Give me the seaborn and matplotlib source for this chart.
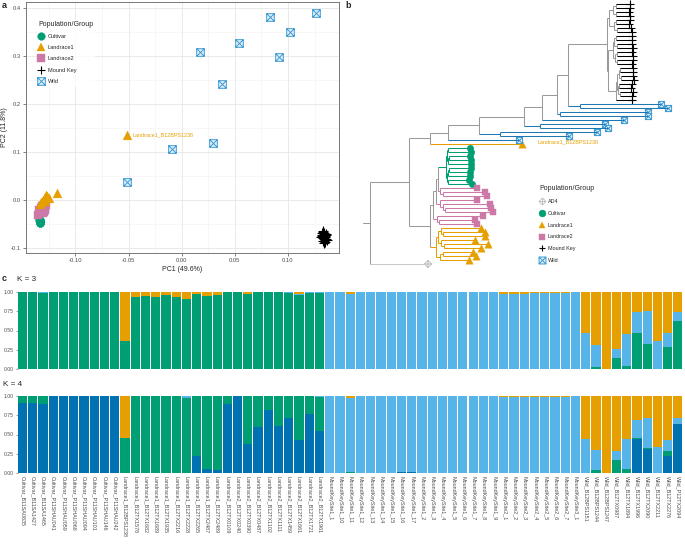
"""
PCA / phylogeny / admixture panels
"""
import matplotlib
matplotlib.use("Agg")
import matplotlib.pyplot as plt
from matplotlib.path import Path
from matplotlib.lines import Line2D
import seaborn as sns
import pandas as pd
import numpy as np

sns.set_theme(style="white")
plt.rcParams["font.family"] = ["Liberation Sans", "DejaVu Sans"]

GREEN, ORANGE, PINK = "#009E73", "#E69F00", "#CC79A7"
LBLUE, DBLUE, GREY = "#56B4E9", "#0072B2", "#9A9A9A"
WILD_EDGE = "#3C9AD2"
TICK_COL = "#4D4D4D"

# ---------------- panel a data (PC1, PC2) ----------------
cult_pc1 = [-0.1338, -0.1335, -0.1332, -0.1336, -0.1330, -0.1334, -0.1328, -0.1333, -0.1331, -0.1337]
cult_pc2 = [-0.041, -0.043, -0.045, -0.047, -0.044, -0.046, -0.042, -0.048, -0.044, -0.045]
l1_pc1 = [-0.0510, -0.1274, -0.1173, -0.1305, -0.1248, -0.1320, -0.1290, -0.1262, -0.1336, -0.1282]
l1_pc2 = [0.136, 0.0104, 0.0139, 0.000, 0.0035, -0.005, 0.006, 0.008, -0.008, -0.002]
l2_pc1 = [-0.1352, -0.1320, -0.1290, -0.1274, -0.1305, -0.1335, -0.1283, -0.1312, -0.1298, -0.1340]
l2_pc2 = [-0.031, -0.017, -0.021, -0.010, -0.028, -0.024, -0.015, -0.012, -0.026, -0.020]
mk_pc1 = [0.1320, 0.1335, 0.1328, 0.1342, 0.1315, 0.1350, 0.1338, 0.1330, 0.1345, 0.1325, 0.1360, 0.1340, 0.1318,
          0.1333, 0.1355, 0.1348, 0.1322, 0.1337, 0.1343, 0.1365, 0.1330, 0.1352, 0.1327, 0.1340, 0.1358]
mk_pc2 = [-0.068, -0.072, -0.075, -0.070, -0.078, -0.074, -0.080, -0.066, -0.083, -0.077, -0.081, -0.086, -0.073,
          -0.079, -0.071, -0.088, -0.076, -0.069, -0.082, -0.084, -0.085, -0.078, -0.064, -0.090, -0.073]
wild_pc1 = [0.0827, 0.1267, 0.1016, 0.0535, 0.0176, 0.0915, 0.0377, 0.0296, -0.0094, -0.0516]
wild_pc2 = [0.382, 0.389, 0.350, 0.328, 0.308, 0.297, 0.241, 0.118, 0.106, 0.037]
outlier_name = "Landrace1_B12BPS1238"

pca_xticks = [-0.10, -0.05, 0.00, 0.05, 0.10]
pca_xlabels = ["-0.10", "-0.05", "0.00", "0.05", "0.10"]
pca_yticks = [-0.1, 0.0, 0.1, 0.2, 0.3, 0.4]
pca_ylabels = ["-0.1", "0.0", "0.1", "0.2", "0.3", "0.4"]

# ---------------- panel b data (newick, branch lengths) ----------------
mk_top = "(((MK_01:14,MK_02:14):3,(MK_03:13,MK_04:14):3):4,((MK_05:14,MK_06:13):2,(MK_07:14,MK_08:15):3):5)"
mk_mid = "(((MK_09:16,MK_10:16):2,(MK_11:15,MK_12:16):3):1,((MK_13:15,MK_14:16):2,(MK_15:16,MK_16:15):2):2)"
mk_bot = ("((((MK_17:13,MK_18:13):1,(MK_19:12,MK_20:13):2):2,((MK_21:13,MK_22:12):1,(MK_23:13,MK_24:12):2):1):1,"
          "MK_25:16)")
mk_clade = f"({mk_top}:2,({mk_mid}:5,{mk_bot}:8):1)"
node_m = f"({mk_clade}:39,(W_09:81,W_10:88):12)"
node_k = f"({node_m}:11,(W_07:88,W_08:88):3)"
node_j = f"({node_k}:15,W_06:82)"
node_g = f"({node_j}:18,(W_04:65,W_05:68):16)"
node_e = f"({node_g}:45,(W_03:97,W_02:69):21)"
node_d = f"({node_e}:31,W_01:71)"
node_b = f"({node_d}:18,L1_B12BPS1238:92)"
cult_clade = ("(((C_01:22,C_02:23):1,((C_03:21,C_04:22):1,C_05:23):1):1,"
              "(((C_06:22,C_07:21):1,C_08:22):1,(C_09:21,C_10:24):1):1)")
l2_a = "(L2_01:37,(L2_02:42,L2_03:44):3)"
l2_b = "(L2_04:37,(L2_05:47,(L2_06:46,L2_07:48):2):3)"
l2_c = "(L2_08:46,(L2_09:36,L2_10:38):2)"
l1_clade = ("(((L1_01:40,(L1_02:42,L1_03:42):2):3,(L1_04:34,(L1_05:44,L1_06:37):3):3):2,"
            "((L1_07:30,L1_08:33):3,L1_09:29):4)")
node_c = f"(((({cult_clade}:8,{l2_a}:2):2,{l2_b}:4):3,{l2_c}:4):3,{l1_clade}:6)"
tree_newick = f"(({node_b}:21,{node_c}:21):39,AD4:58);"
tree_root_x = 370
tree_stub_x = 363

group_of_prefix = {"MK": "Mound Key", "W": "Wild", "C": "Cultivar", "L1": "Landrace1",
                   "L2": "Landrace2", "AD4": "AD4"}

# ---------------- panel c data (admixture Q values) ----------------
samples = (
    ["Cultivar_B11SA0835", "Cultivar_B11SA1427", "Cultivar_B11SA1465", "Cultivar_P11SHAU041",
     "Cultivar_P11SHAU059", "Cultivar_P11SHAU068", "Cultivar_P11SHAU094", "Cultivar_P11SHAU101",
     "Cultivar_P11SHAU146", "Cultivar_P11SHAU242"]
    + ["Landrace1_B12BPS1238", "Landrace1_B12TX1578", "Landrace1_B12TX1682", "Landrace1_B12TX1689",
       "Landrace1_B12TX1935", "Landrace1_B12TX2216", "Landrace1_B12TX2228", "Landrace1_B12TX2265",
       "Landrace1_B12TX2487", "Landrace1_B12TX2489"]
    + ["Landrace2_B12TX0109", "Landrace2_B12TX0240", "Landrace2_B12TX0390", "Landrace2_B12TX0487",
       "Landrace2_B12TX1102", "Landrace2_B12TX1111", "Landrace2_B12TX1459", "Landrace2_B12TX1661",
       "Landrace2_B12TX1721", "Landrace2_B12TX1961"]
    + ["MoundKeySite1_1", "MoundKeySite1_10", "MoundKeySite1_11", "MoundKeySite1_12", "MoundKeySite1_13",
       "MoundKeySite1_14", "MoundKeySite1_15", "MoundKeySite1_16", "MoundKeySite1_17", "MoundKeySite1_2",
       "MoundKeySite1_3", "MoundKeySite1_4", "MoundKeySite1_5", "MoundKeySite1_6", "MoundKeySite1_7",
       "MoundKeySite1_8", "MoundKeySite1_9", "MoundKeySite2_1", "MoundKeySite2_2", "MoundKeySite2_3",
       "MoundKeySite2_4", "MoundKeySite2_5", "MoundKeySite2_6", "MoundKeySite2_7", "MoundKeySite3_1"]
    + ["Wild_B12BPS1151", "Wild_B12BPS1244", "Wild_B12BPS1247", "Wild_B12TX0987", "Wild_B12TX1894",
       "Wild_B12TX1996", "Wild_B12TX2090", "Wild_B12TX2211", "Wild_B12TX2276", "Wild_P12TX2094"]
)

# K = 3, stacked bottom -> top: green, light blue, orange
k3_green = ([1.00, 1.00, 0.99, 1.00, 1.00, 1.00, 1.00, 1.00, 1.00, 1.00]
            + [0.37, 0.935, 0.95, 0.935, 0.955, 0.935, 0.91, 0.98, 0.95, 0.955]
            + [1.00, 1.00, 0.98, 1.00, 1.00, 0.995, 0.99, 0.965, 0.99, 0.985]
            + [0, 0.005, 0.005, 0, 0, 0.004, 0, 0, 0, 0.004, 0, 0, 0, 0.004, 0, 0, 0, 0, 0, 0, 0,
               0.004, 0.004, 0.005, 0]
            + [0.0, 0.026, 0.0, 0.138, 0.04, 0.465, 0.33, 0.0, 0.284, 0.625])
k3_lblue = ([0, 0, 0.01, 0, 0, 0, 0, 0, 0, 0]
            + [0, 0, 0, 0, 0, 0, 0, 0, 0, 0]
            + [0, 0, 0, 0, 0, 0, 0.01, 0.01, 0.01, 0.015]
            + [1.0, 0.995, 0.965, 1.0, 1.0, 0.996, 1.0, 1.0, 1.0, 0.996, 1.0, 1.0, 1.0, 0.996, 1.0, 1.0, 1.0,
               0.975, 0.978, 0.978, 0.985, 0.984, 0.986, 0.985, 1.0]
            + [0.474, 0.284, 0.0, 0.122, 0.42, 0.272, 0.42, 0.362, 0.181, 0.12])
k3_orange = ([0, 0, 0, 0, 0, 0, 0, 0, 0, 0]
             + [0.63, 0.065, 0.05, 0.065, 0.045, 0.065, 0.09, 0.02, 0.05, 0.045]
             + [0, 0, 0.02, 0, 0, 0.005, 0, 0.025, 0, 0]
             + [0, 0, 0.03, 0, 0, 0, 0, 0, 0, 0, 0, 0, 0, 0, 0, 0, 0, 0.025, 0.022, 0.022, 0.015, 0.012,
                0.01, 0.01, 0]
             + [0.526, 0.69, 1.0, 0.74, 0.54, 0.263, 0.25, 0.638, 0.535, 0.255])

# K = 4, stacked bottom -> top: dark blue, green, light blue, orange
k4_dblue = ([0.91, 0.914, 0.897, 1, 1, 1, 1, 1, 1, 1]
            + [0, 0, 0, 0, 0, 0, 0, 0.224, 0.056, 0.043]
            + [0.897, 1.0, 0.38, 0.595, 0.823, 0.612, 0.716, 0.435, 0.76, 0.547]
            + [0, 0, 0, 0, 0, 0, 0, 0.01, 0.008, 0, 0, 0, 0, 0, 0.005, 0, 0, 0, 0, 0, 0, 0, 0, 0, 0]
            + [0, 0, 0, 0, 0, 0.44, 0.315, 0, 0.22, 0.638])
k4_green = ([0.09, 0.086, 0.103, 0, 0, 0, 0, 0, 0, 0]
            + [0.457, 1, 1, 1, 1, 1, 0.97, 0.776, 0.944, 0.957]
            + [0.103, 0, 0.62, 0.405, 0.177, 0.388, 0.284, 0.56, 0.24, 0.445]
            + [0, 0, 0.01, 0, 0, 0.004, 0, 0, 0, 0, 0, 0, 0, 0, 0, 0, 0, 0, 0, 0, 0, 0.005, 0.005, 0.004, 0]
            + [0, 0.043, 0, 0.168, 0.047, 0.013, 0.005, 0, 0.064, 0.0])
k4_lblue = ([0, 0, 0, 0, 0, 0, 0, 0, 0, 0]
            + [0, 0, 0, 0, 0, 0, 0.03, 0, 0, 0]
            + [0, 0, 0, 0, 0, 0, 0, 0.005, 0, 0.008]
            + [1.0, 1.0, 0.97, 1.0, 1.0, 0.996, 1.0, 0.99, 0.992, 1.0, 1.0, 1.0, 1.0, 1.0, 0.995, 1.0, 1.0,
               0.985, 0.985, 0.988, 0.99, 0.985, 0.987, 0.988, 1.0]
            + [0.444, 0.257, 0, 0.112, 0.40, 0.241, 0.396, 0.332, 0.151, 0.082])
k4_orange = ([0, 0, 0, 0, 0, 0, 0, 0, 0, 0]
             + [0.543, 0, 0, 0, 0, 0, 0, 0, 0, 0]
             + [0, 0, 0, 0, 0, 0, 0, 0, 0, 0]
             + [0, 0, 0.02, 0, 0, 0, 0, 0, 0, 0, 0, 0, 0, 0, 0, 0, 0, 0.015, 0.015, 0.012, 0.01, 0.01,
                0.008, 0.008, 0]
             + [0.556, 0.70, 1.0, 0.72, 0.553, 0.306, 0.284, 0.668, 0.565, 0.28])
q_ticks = [0.0, 0.25, 0.5, 0.75, 1.0]
q_labels = ["0.00", "0.25", "0.50", "0.75", "1.00"]

# ---------------- markers ----------------
M, L = Path.MOVETO, Path.LINETO
box_x = Path([(-1, -1), (1, -1), (1, 1), (-1, 1), (-1, -1), (-1, -1), (1, 1), (-1, 1), (1, -1)],
             [M, L, L, L, Path.CLOSEPOLY, M, L, M, L])
diamond_plus = Path([(0, 1), (1, 0), (0, -1), (-1, 0), (0, 1), (-1, 0), (1, 0), (0, -1), (0, 1)],
                    [M, L, L, L, Path.CLOSEPOLY, M, L, M, L])

style = {
    "AD4": dict(marker=diamond_plus, fc="none", ec="#BBBBBB", lw=0.6),
    "Cultivar": dict(marker="o", fc=GREEN, ec=GREEN, lw=0.3),
    "Landrace1": dict(marker="^", fc=ORANGE, ec=ORANGE, lw=0.3),
    "Landrace2": dict(marker="s", fc=PINK, ec=PINK, lw=0.3),
    "Mound Key": dict(marker="+", fc="black", ec="black", lw=0.8),
    "Wild": dict(marker=box_x, fc="#E6F2FA", ec=WILD_EDGE, lw=0.7),
}
line_col = {"AD4": "#C8C8C8", "Cultivar": GREEN, "Landrace1": ORANGE, "Landrace2": PINK,
            "Mound Key": "black", "Wild": "#1F77B4"}


def px(x, y):
    return x / 685, 1 - y / 546


def scatter(ax, xs, ys, group, s):
    st = style[group]
    kw = dict(marker=st["marker"], s=s, linewidth=st["lw"], ax=ax, legend=False)
    if st["marker"] == "+":
        sns.scatterplot(x=xs, y=ys, color=st["ec"], **kw)
    else:
        sns.scatterplot(x=xs, y=ys, color=st["fc"], edgecolor=st["ec"], **kw)


def legend_handles(groups, ms):
    out = []
    for g in groups:
        st = style[g]
        out.append(Line2D([], [], linestyle="none", marker=st["marker"], markersize=ms,
                          markerfacecolor=st["fc"], markeredgecolor=st["ec"], markeredgewidth=st["lw"],
                          label=g))
    return out


fig = plt.figure(figsize=(6.85, 5.46), dpi=100)

# ================= panel a =================
l, b = px(25.7, 253.3)
ax_a = fig.add_axes([l, b, 313.3 / 685, 251.6 / 546])
ax_a.set_facecolor("white")
for t in np.arange(-0.125, 0.15, 0.05):
    ax_a.axvline(t, color="#F2F2F2", lw=0.4, zorder=0)
for t in pca_xticks:
    ax_a.axvline(t, color="#E6E6E6", lw=0.6, zorder=0)
for t in np.arange(-0.05, 0.41, 0.1):
    ax_a.axhline(t, color="#F2F2F2", lw=0.4, zorder=0)
for t in pca_yticks:
    ax_a.axhline(t, color="#E6E6E6", lw=0.6, zorder=0)

scatter(ax_a, wild_pc1, wild_pc2, "Wild", 30)
scatter(ax_a, mk_pc1, mk_pc2, "Mound Key", 50)
scatter(ax_a, cult_pc1, cult_pc2, "Cultivar", 32)
scatter(ax_a, l2_pc1, l2_pc2, "Landrace2", 30)
scatter(ax_a, l1_pc1, l1_pc2, "Landrace1", 40)
ax_a.text(l1_pc1[0] + 0.0045, l1_pc2[0], outlier_name, color=ORANGE, fontsize=3.9, va="center")

ax_a.set_xlim(-0.1467, 0.148)
ax_a.set_ylim(-0.111, 0.413)
ax_a.set_xticks(pca_xticks)
ax_a.set_xticklabels(pca_xlabels)
ax_a.set_yticks(pca_yticks)
ax_a.set_yticklabels(pca_ylabels)
ax_a.tick_params(labelsize=4.2, colors=TICK_COL, length=2, width=0.5, pad=1.5, direction="out",
                 bottom=True, left=True)
ax_a.set_xlabel("PC1 (49.6%)", fontsize=5, labelpad=2)
ax_a.set_ylabel("PC2 (11.8%)", fontsize=5, labelpad=2)
for sp in ax_a.spines.values():
    sp.set_color("#777777")
    sp.set_linewidth(0.7)

leg_a = ax_a.legend(handles=legend_handles(["Cultivar", "Landrace1", "Landrace2", "Mound Key", "Wild"], 5.5),
                    title="Population/Group", loc="upper left", bbox_to_anchor=px(34, 16),
                    bbox_transform=fig.transFigure, fontsize=4.1, title_fontsize=5, frameon=True,
                    handlelength=1.0, handletextpad=0.6, labelspacing=1.1, borderpad=0.3,
                    alignment="left")
leg_a.get_frame().set_facecolor("white")
leg_a.get_frame().set_edgecolor("none")

# ================= panel b =================
l, b = px(350, 270)
ax_b = fig.add_axes([l, b, 335 / 685, 270 / 546])


def parse_newick(s):
    pos = 0

    def node():
        nonlocal pos
        kids = []
        if s[pos] == "(":
            pos += 1
            while True:
                kids.append(node())
                if s[pos] == ",":
                    pos += 1
                    continue
                pos += 1
                break
        start = pos
        while pos < len(s) and s[pos] not in ",();":
            pos += 1
        name, _, ln = s[start:pos].partition(":")
        return {"name": name, "len": float(ln) if ln else 0.0, "children": kids}

    return node()


def layout(n, x0, counter, tips):
    n["x"] = x0 + n["len"]
    if not n["children"]:
        n["y"] = counter[0]
        counter[0] += 1
        n["groups"] = {group_of_prefix[n["name"].split("_")[0]]}
        tips.append((n["x"], n["y"], next(iter(n["groups"]))))
    else:
        for c in n["children"]:
            layout(c, n["x"], counter, tips)
        n["y"] = (n["children"][0]["y"] + n["children"][-1]["y"]) / 2
        n["groups"] = set().union(*[c["groups"] for c in n["children"]])


def branch_colour(n):
    if len(n["groups"]) == 1:
        g = next(iter(n["groups"]))
        if g != "Mound Key" or not n["children"]:
            return line_col[g]
    return GREY


def draw(ax, n, parent_x):
    col = branch_colour(n)
    ax.plot([parent_x, n["x"]], [n["y"], n["y"]], color=col, lw=0.75, solid_capstyle="butt")
    if n["children"]:
        ys = [c["y"] for c in n["children"]]
        ax.plot([n["x"], n["x"]], [min(ys), max(ys)], color=col, lw=0.75, solid_capstyle="butt")
        for c in n["children"]:
            draw(ax, c, n["x"])


root = parse_newick(tree_newick)
tips = []
layout(root, tree_root_x, [0], tips)
ax_b.plot([tree_stub_x, tree_root_x], [root["y"], root["y"]], color=GREY, lw=0.75)
draw(ax_b, root, tree_root_x)
tips_df = pd.DataFrame(tips, columns=["x", "y", "group"])
tip_sizes = {"AD4": 26, "Cultivar": 22, "Landrace1": 28, "Landrace2": 20, "Mound Key": 40, "Wild": 20}
for g in ["AD4", "Cultivar", "Landrace2", "Landrace1", "Wild", "Mound Key"]:
    sub = tips_df[tips_df["group"] == g]
    scatter(ax_b, sub["x"], sub["y"], g, tip_sizes[g])
out_tip = tips_df[tips_df["y"] == 35].iloc[0]
ax_b.text(out_tip["x"] + 15, out_tip["y"] - 0.5, outlier_name, color=ORANGE, fontsize=3.9, va="center")
ax_b.set_xlim(350, 685)
ax_b.set_ylim(66.5, -1)
ax_b.set_axis_off()

leg_b = ax_b.legend(handles=legend_handles(["AD4", "Cultivar", "Landrace1", "Landrace2", "Mound Key", "Wild"], 5),
                    title="Population/Group", loc="upper left", bbox_to_anchor=px(535, 181),
                    bbox_transform=fig.transFigure, fontsize=3.9, title_fontsize=5, frameon=False,
                    handlelength=1.0, handletextpad=0.6, labelspacing=1.25, borderpad=0.3,
                    alignment="left")


# ================= panel c =================
def stacked(ax, layers, colours):
    for i in reversed(range(len(layers))):
        h = np.sum(layers[: i + 1], axis=0)
        df = pd.DataFrame({"sample": samples, "q": h})
        sns.barplot(data=df, x="sample", y="q", order=samples, color=colours[i], width=0.9,
                    saturation=1, linewidth=0, errorbar=None, ax=ax)
    ax.set_xlim(-0.5, len(samples) - 0.5)
    ax.set_ylim(0, 1)
    ax.set_yticks(q_ticks)
    ax.set_yticklabels(q_labels)
    ax.set_xlabel("")
    ax.set_ylabel("")
    ax.tick_params(axis="y", labelsize=3.7, colors=TICK_COL, length=1.5, width=0.4, pad=1, left=True)
    for sp in ax.spines.values():
        sp.set_visible(False)


l, b = px(17.5, 369)
ax_k3 = fig.add_axes([l, b, 665.5 / 685, 77 / 546])
stacked(ax_k3, [k3_green, k3_lblue, k3_orange], [GREEN, LBLUE, ORANGE])
ax_k3.set_xticks([])

l, b = px(17.5, 473)
ax_k4 = fig.add_axes([l, b, 665.5 / 685, 77 / 546])
stacked(ax_k4, [k4_dblue, k4_green, k4_lblue, k4_orange], [DBLUE, GREEN, LBLUE, ORANGE])
ax_k4.set_xticks(range(len(samples)))
ax_k4.set_xticklabels(samples, rotation=270, fontsize=3.9, color=TICK_COL)
ax_k4.tick_params(axis="x", length=0, pad=2)

# panel letters and titles
fig.text(*px(2, 1), "a", fontsize=6.5, fontweight="bold", va="top")
fig.text(*px(345, 1), "b", fontsize=6.5, fontweight="bold", va="top")
fig.text(*px(2, 274), "c", fontsize=6.5, fontweight="bold", va="top")
fig.text(*px(17, 279.5), "K = 3", fontsize=5.9, va="center")
fig.text(*px(3, 385), "K = 4", fontsize=5.9, va="center")

fig.savefig("out.png", dpi=100)
